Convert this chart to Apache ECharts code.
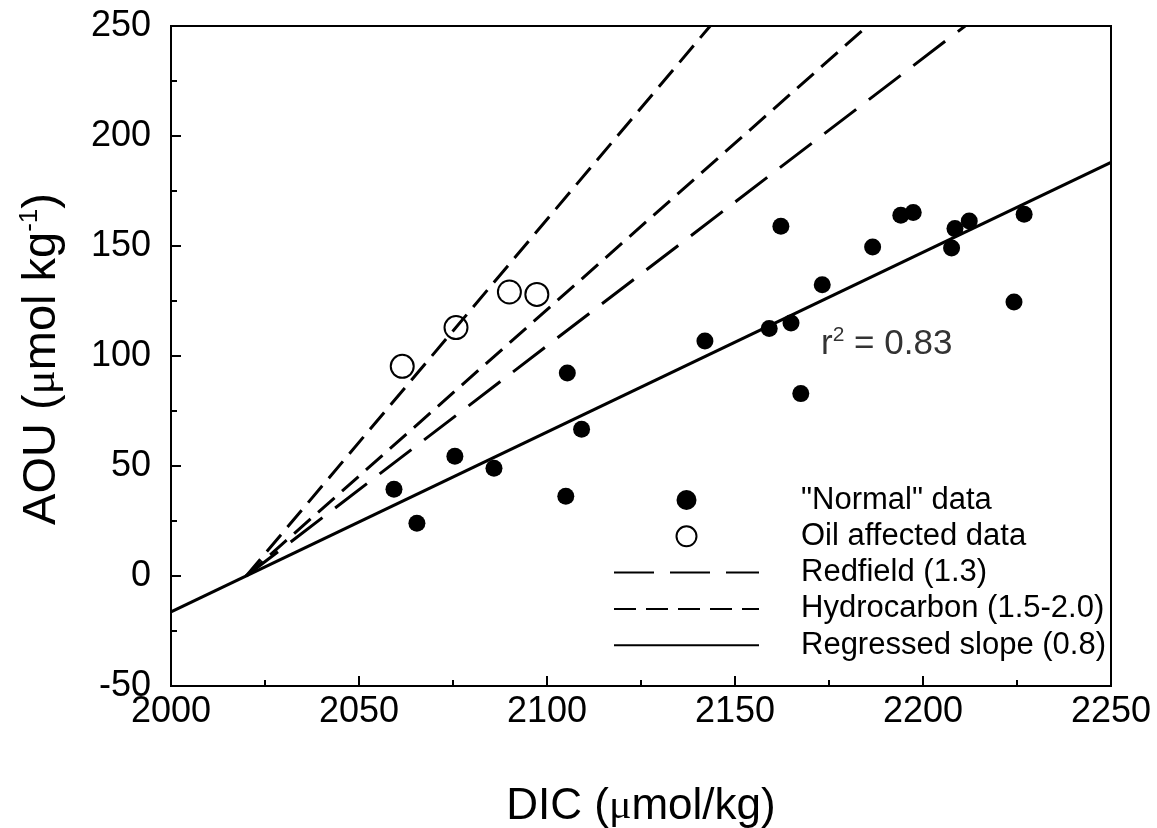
<!DOCTYPE html>
<html>
<head>
<meta charset="utf-8">
<script src="https://cdn.jsdelivr.net/npm/echarts@6/dist/echarts.min.js"></script>
<style>html,body{margin:0;padding:0;background:#fff;}#main{width:1157px;height:828px;}</style>
</head>
<body>
<div id="main"></div>
<script>
// ---- data ----
var normalDIC = [2059.3, 2065.4, 2075.5, 2085.9, 2105.0, 2105.4, 2109.2, 2142.0, 2159.1, 2164.9, 2162.2, 2167.5, 2173.2, 2186.6, 2194.1, 2197.4, 2207.6, 2208.5, 2212.3, 2224.2, 2226.9];
var normalAOU = [39.4, 24.0, 54.4, 49.0, 36.2, 92.3, 66.7, 106.8, 112.5, 115.0, 159.0, 82.9, 132.4, 149.5, 164.0, 165.2, 149.1, 157.9, 161.4, 124.5, 164.4];
var oilDIC = [2061.5, 2075.8, 2090.0, 2097.3];
var oilAOU = [95.3, 112.9, 129.1, 128.0];
var regressedDIC = [2000, 2250];
var regressedAOU = [-16.3, 188.0];
var redfieldDIC = [2020, 2211.2];
var redfieldAOU = [0, 250];
var hc15DIC = [2020, 2185.2];
var hc15AOU = [0, 250];
var hc20DIC = [2020, 2143.4];
var hc20AOU = [0, 250];
var seriesNames = ['"Normal" data', 'Oil affected data', 'Redfield (1.3)', 'Hydrocarbon (1.5-2.0)', 'Regressed slope (0.8)'];
var r2Text = '0.83';

function pairs(xs, ys) { return xs.map(function (x, i) { return [x, ys[i]]; }); }

var FONT = 'Liberation Sans, Arial, sans-serif';
var noSymbol = {opacity: 0, color: 'transparent', borderWidth: 0};
var chart = echarts.init(document.getElementById('main'), null, {renderer: 'canvas'});
chart.setOption({
  backgroundColor: '#fff',
  animation: false,
  grid: {left: 171, right: 46, top: 26, bottom: 142, show: true, borderColor: '#000', borderWidth: 2,
    backgroundColor: 'transparent', containLabel: false, outerBoundsMode: 'none'},
  xAxis: {
    type: 'value', min: 2000, max: 2250, interval: 50,
    name: 'DIC ({mu|μ}mol/kg)', nameLocation: 'middle', nameGap: 99,
    nameTextStyle: {fontFamily: FONT, fontSize: 44, color: '#000',
      rich: {mu: {fontFamily: 'Liberation Serif, serif', fontSize: 42, color: '#000'}}},
    axisLine: {show: true, onZero: false, lineStyle: {color: '#000', width: 2}},
    axisTick: {show: true, inside: true, length: 10, lineStyle: {color: '#000', width: 2}},
    minorTick: {show: true, splitNumber: 2, length: 6, lineStyle: {color: '#000', width: 2}},
    axisLabel: {fontFamily: FONT, fontSize: 36, color: '#000', margin: 8, formatter: function (v) { return String(v); }},
    splitLine: {show: false}
  },
  yAxis: {
    type: 'value', min: -50, max: 250, interval: 50,
    name: 'AOU ({mu|μ}mol kg{sup|-1})', nameLocation: 'middle', nameGap: 104, nameRotate: 90,
    nameTextStyle: {fontFamily: FONT, fontSize: 47, color: '#000', padding: [0, 6, 0, 0],
      rich: {mu: {fontFamily: 'Liberation Serif, serif', fontSize: 45, color: '#000'},
             sup: {fontFamily: FONT, fontSize: 26, color: '#000', padding: [0, 0, 24, 0]}}},
    axisLine: {show: true, onZero: false, lineStyle: {color: '#000', width: 2}},
    axisTick: {show: true, inside: true, length: 10, lineStyle: {color: '#000', width: 2}},
    minorTick: {show: true, splitNumber: 2, length: 6, lineStyle: {color: '#000', width: 2}},
    axisLabel: {fontFamily: FONT, fontSize: 36, color: '#000', margin: 20, formatter: function (v) { return String(v); }},
    splitLine: {show: false}
  },
  legend: {
    orient: 'vertical', left: 613, top: 482, padding: 0, itemGap: 0.3,
    itemWidth: 145, itemHeight: 20,
    data: [
      {name: seriesNames[0]},
      {name: seriesNames[1], itemStyle: {borderWidth: 2}},
      {name: seriesNames[2], itemStyle: noSymbol},
      {name: seriesNames[3], itemStyle: noSymbol},
      {name: seriesNames[4], itemStyle: noSymbol}
    ],
    textStyle: {fontFamily: FONT, fontSize: 31, color: '#000', lineHeight: 36, padding: [0, 0, 0, 37]},
    selectedMode: false
  },
  graphic: [{
    type: 'text', left: 821, top: 325,
    style: {text: 'r{s|2} = ' + r2Text, fontFamily: FONT, fontSize: 35, fill: '#333',
      rich: {s: {fontFamily: FONT, fontSize: 21, fill: '#333', padding: [0, 0, 18, 0]}}}
  }],
  series: [
    {name: seriesNames[2], type: 'line', data: pairs(redfieldDIC, redfieldAOU), symbol: 'none', z: 2,
      lineStyle: {color: '#000', width: 3, type: [40, 16]}, itemStyle: {color: '#000'}},
    {name: seriesNames[3], type: 'line', data: pairs(hc15DIC, hc15AOU), symbol: 'none', z: 2,
      lineStyle: {color: '#000', width: 3, type: [22, 10]}, itemStyle: {color: '#000'}},
    {name: seriesNames[3], type: 'line', data: pairs(hc20DIC, hc20AOU), symbol: 'none', z: 2,
      lineStyle: {color: '#000', width: 3, type: [22, 10]}, itemStyle: {color: '#000'}},
    {name: seriesNames[4], type: 'line', data: pairs(regressedDIC, regressedAOU), symbol: 'none', z: 2,
      lineStyle: {color: '#000', width: 3.2, type: 'solid'}, itemStyle: {color: '#000'}},
    {name: seriesNames[0], type: 'scatter', data: pairs(normalDIC, normalAOU), symbol: 'circle', symbolSize: 17, z: 3,
      itemStyle: {color: '#000', opacity: 1}},
    {name: seriesNames[1], type: 'scatter', data: pairs(oilDIC, oilAOU), symbol: 'circle', symbolSize: 23, z: 3,
      itemStyle: {color: 'rgba(255,255,255,0)', borderColor: '#000', borderWidth: 2, opacity: 1}}
  ]
});
</script>
</body>
</html>
